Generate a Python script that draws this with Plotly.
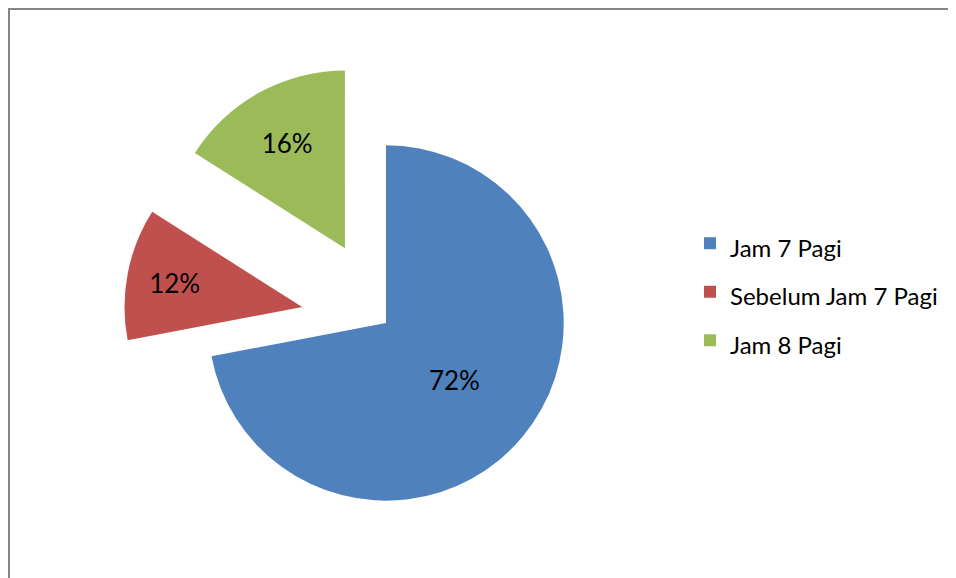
import plotly.graph_objects as go

labels = ["Jam 7 Pagi", "Sebelum Jam 7 Pagi", "Jam 8 Pagi"]
values = [72, 12, 16]
pulls = [0, 0.48, 0.48]
colors = ["#4F81BD", "#C0504D", "#9BBB59"]

W, H = 956, 578
legend_labels = ['<span style="font-size:24px">%s</span>' % l for l in labels]

fig = go.Figure(go.Pie(
    labels=legend_labels,
    values=values,
    pull=pulls,
    sort=False,
    direction="clockwise",
    rotation=0,
    marker=dict(colors=colors, line=dict(width=0)),
    textinfo="percent",
    texttemplate="%{percent:.0%}",
    textposition="inside",
    insidetextorientation="horizontal",
    textfont=dict(family="Lato, sans-serif", size=26, color="black"),
    domain=dict(x=[108 / W, 648 / W], y=[0, 526 / H]),
    hoverinfo="skip",
))

fig.update_layout(
    width=W, height=H,
    margin=dict(l=0, r=0, t=0, b=0),
    paper_bgcolor="white",
    plot_bgcolor="white",
    font=dict(family="Lato, sans-serif", color="black"),
    showlegend=True,
    legend=dict(
        x=682 / W, y=(H - 206) / H, xanchor="left", yanchor="top",
        font=dict(size=35, color="black", family="Lato, sans-serif"),
        bgcolor="rgba(0,0,0,0)",
    ),
    shapes=[dict(
        type="rect", xref="paper", yref="paper",
        x0=1 / W, x1=1.05, y0=-0.05, y1=(H - 1) / H,
        line=dict(color="#868686", width=2), fillcolor="rgba(0,0,0,0)",
        layer="below",
    )],
)

fig.write_html("out.html")
